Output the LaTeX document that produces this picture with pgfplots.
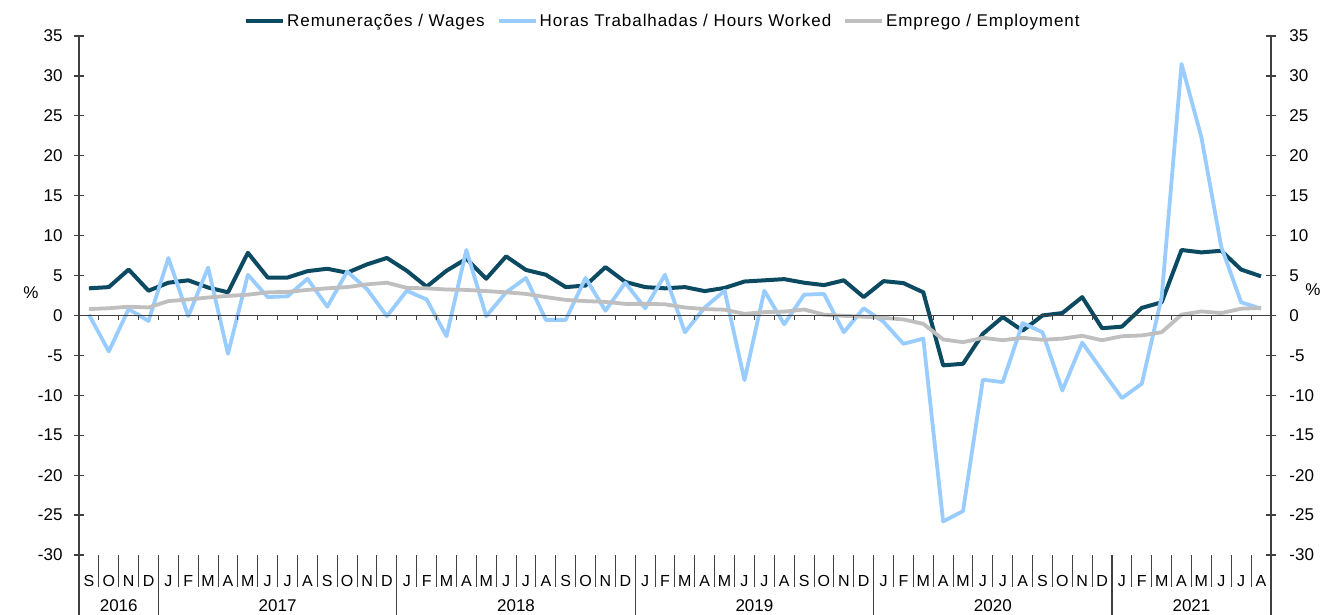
\documentclass[border=0pt]{standalone}
\usepackage{fontspec}
\setmainfont{Liberation Sans}
\usepackage{pgfplots}
\pgfplotsset{compat=1.18}
\usepackage{pgfplotstable}

\definecolor{wages}{RGB}{12,74,98}
\definecolor{hours}{RGB}{153,204,255}
\definecolor{empl}{RGB}{191,191,191}
\definecolor{axc}{RGB}{64,64,64}

\pgfplotstableread{
x wages hours empl
0.5 3.4 0.1 0.8
1.5 3.55 -4.5 0.9
2.5 5.75 0.8 1.1
3.5 3.1 -0.7 1.0
4.5 4.1 7.2 1.8
5.5 4.4 -0.1 2.0
6.5 3.5 6.0 2.25
7.5 2.9 -4.8 2.45
8.5 7.85 5.1 2.6
9.5 4.75 2.3 2.9
10.5 4.75 2.4 2.95
11.5 5.55 4.6 3.2
12.5 5.85 1.1 3.4
13.5 5.35 5.5 3.55
14.5 6.4 3.3 3.9
15.5 7.2 -0.1 4.1
16.5 5.6 3.1 3.45
17.5 3.6 2.0 3.4
18.5 5.6 -2.6 3.25
19.5 7.1 8.2 3.2
20.5 4.6 -0.1 3.05
21.5 7.4 2.9 2.9
22.5 5.7 4.7 2.7
23.5 5.1 -0.55 2.3
24.5 3.55 -0.55 1.95
25.5 3.75 4.7 1.8
26.5 6.05 0.6 1.7
27.5 4.2 4.1 1.45
28.5 3.55 0.9 1.45
29.5 3.4 5.1 1.4
30.5 3.55 -2.1 1.0
31.5 3.05 1.0 0.8
32.5 3.45 3.1 0.72
33.5 4.25 -8.1 0.2
34.5 4.4 3.1 0.42
35.5 4.55 -1.1 0.48
36.5 4.1 2.6 0.75
37.5 3.8 2.7 0.1
38.5 4.4 -2.1 -0.05
39.5 2.3 0.9 -0.15
40.5 4.3 -0.8 -0.3
41.5 4.05 -3.55 -0.5
42.5 2.9 -2.9 -1.05
43.5 -6.25 -25.8 -3.0
44.5 -6.05 -24.5 -3.35
45.5 -2.3 -8.05 -2.8
46.5 -0.2 -8.35 -3.1
47.5 -1.9 -0.95 -2.8
48.5 0.0 -2.1 -3.05
49.5 0.3 -9.4 -2.9
50.5 2.3 -3.4 -2.55
51.5 -1.6 -6.9 -3.1
52.5 -1.4 -10.35 -2.6
53.5 0.95 -8.55 -2.5
54.5 1.65 2.3 -2.1
55.5 8.2 31.5 0.1
56.5 7.9 22.3 0.5
57.5 8.1 8.6 0.3
58.5 5.75 1.65 0.85
59.5 4.9 0.85 0.95
}\datatable

\begin{document}
\begin{tikzpicture}
\useasboundingbox (-79pt,-60pt) rectangle (1244pt,555pt);
\begin{axis}[
  scale only axis, width=1192pt, height=519pt,
  xmin=0, xmax=60, ymin=-30, ymax=35,
  axis x line*=bottom, axis y line*=left,
  x axis line style={draw=none},
  y axis line style={axc, line width=1.2pt, -},
  xtick={0.5,1.5,...,59.5},
  xticklabels={S,O,N,D,J,F,M,A,M,J,J,A,S,O,N,D,J,F,M,A,M,J,J,A,S,O,N,D,J,F,M,A,M,J,J,A,S,O,N,D,J,F,M,A,M,J,J,A,S,O,N,D,J,F,M,A,M,J,J,A},
  xtick style={draw=none},
  xticklabel style={anchor=center, yshift=-21pt, font=\fontsize{16}{16}\selectfont},
  ytick={-30,-25,...,35},
  ytick style={axc, line width=1.2pt},
  tick align=center, major tick length=10pt,
  yticklabel style={font=\fontsize{17}{17}\selectfont, xshift=-8pt},
  /pgf/number format/assume math mode=true,
  clip=false,
  legend columns=3,
  legend style={draw=none, fill=none, at={(0.1384,1.029)}, anchor=west, inner sep=0pt,
    font=\fontsize{17}{17}\selectfont\addfontfeatures{LetterSpace=5.5},
    /tikz/every even column/.append style={column sep=10pt}},
  legend cell align=left,
  legend image code/.code={\draw[#1] (0pt,0pt) -- (37pt,0pt);},
]
\addplot[wages, line width=4pt, line join=round] table[x=x, y=wages] {\datatable};
\addlegendentry{Remunerações / Wages}
\addplot[hours, line width=3.8pt, line join=round] table[x=x, y=hours] {\datatable};
\addlegendentry{Horas Trabalhadas / Hours Worked}
\addplot[empl, line width=3.8pt, line join=round] table[x=x, y=empl] {\datatable};
\addlegendentry{Emprego / Employment}

\draw[axc, line width=1.2pt] (axis cs:0,0) -- (axis cs:60,0);
\pgfplotsinvokeforeach{1,...,59}{
  \draw[axc, line width=1pt] (axis cs:#1,0) -- ++(0pt,-5pt);
  \draw[axc, line width=1pt] (axis cs:#1,-30) -- ++(0pt,-32pt);
}
\pgfplotsinvokeforeach{0,4,16,28,40,52,60}{
  \draw[axc, line width=1.2pt] (axis cs:#1,-30) -- ++(0pt,-62pt);
}
\draw[axc, line width=1.2pt] (axis cs:60,-30) -- (axis cs:60,35);
\node[font=\fontsize{17}{17}\selectfont] at (axis cs:2,-30) [yshift=-51pt] {2016};
\node[font=\fontsize{17}{17}\selectfont] at (axis cs:10,-30) [yshift=-51pt] {2017};
\node[font=\fontsize{17}{17}\selectfont] at (axis cs:22,-30) [yshift=-51pt] {2018};
\node[font=\fontsize{17}{17}\selectfont] at (axis cs:34,-30) [yshift=-51pt] {2019};
\node[font=\fontsize{17}{17}\selectfont] at (axis cs:46,-30) [yshift=-51pt] {2020};
\node[font=\fontsize{17}{17}\selectfont] at (axis cs:56,-30) [yshift=-51pt] {2021};
\node[font=\fontsize{17}{17}\selectfont] at (axis cs:0,2.8) [xshift=-48pt] {\%};
\node[font=\fontsize{17}{17}\selectfont] at (axis cs:60,3.2) [xshift=42pt] {\%};
\end{axis}
\begin{axis}[
  scale only axis, width=1192pt, height=519pt,
  xmin=0, xmax=60, ymin=-30, ymax=35,
  axis x line=none, axis y line*=right,
  y axis line style={axc, line width=1.2pt, -},
  ytick={-30,-25,...,35},
  ytick style={axc, line width=1.2pt},
  tick align=center, major tick length=10pt,
  yticklabel style={font=\fontsize{17}{17}\selectfont, xshift=10pt},
  /pgf/number format/assume math mode=true,
]
\addplot[draw=none] coordinates {(1,0)};
\end{axis}
\end{tikzpicture}
\end{document}
